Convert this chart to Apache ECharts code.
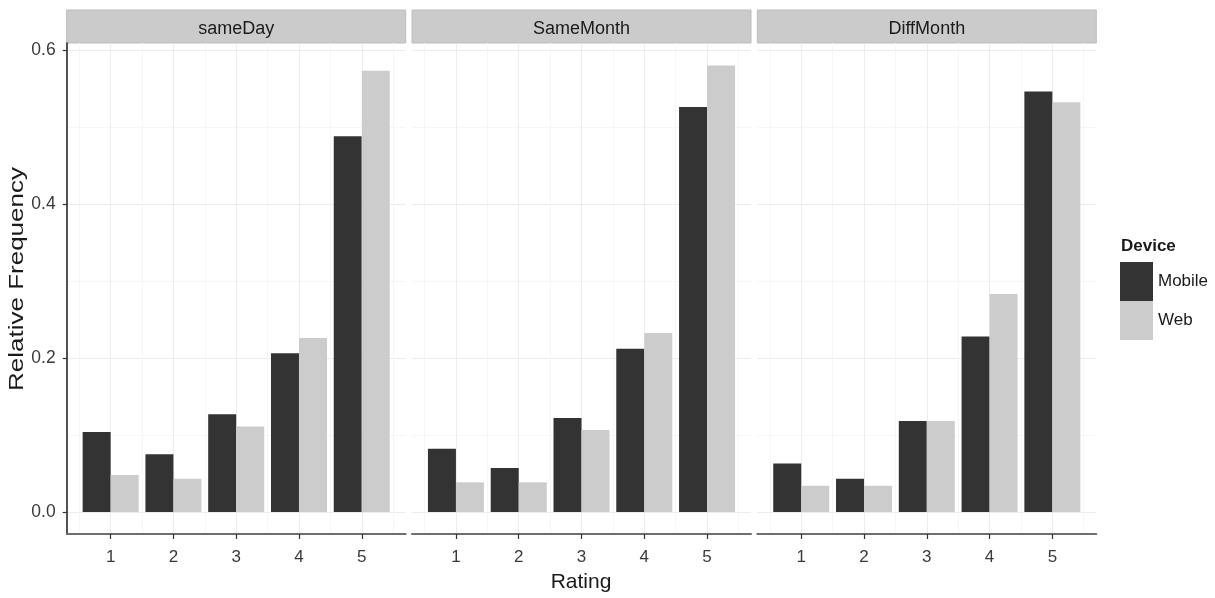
<!DOCTYPE html>
<html>
<head>
<meta charset="utf-8">
<script src="https://cdn.jsdelivr.net/npm/echarts@6/dist/echarts.min.js"></script>
<style>
html,body{margin:0;padding:0;background:#fff;}
#chart{width:1215px;height:598px;}
</style>
</head>
<body>
<div id="chart"></div>
<script>
// ---- data ----
const facets = ['sameDay', 'SameMonth', 'DiffMonth'];
const ratings = [1, 2, 3, 4, 5];
const devices = ['Mobile', 'Web'];
const mobileSameDay   = [0.104, 0.075, 0.127, 0.206, 0.488];
const webSameDay      = [0.048, 0.043, 0.111, 0.226, 0.573];
const mobileSameMonth = [0.082, 0.057, 0.122, 0.212, 0.526];
const webSameMonth    = [0.0385, 0.0385, 0.1065, 0.2325, 0.580];
const mobileDiffMonth = [0.063, 0.043, 0.118, 0.228, 0.546];
const webDiffMonth    = [0.034, 0.034, 0.118, 0.283, 0.532];
const yTicks = [0, 0.2, 0.4, 0.6];
const yMinorTicks = [0.1, 0.3, 0.5];
const xMinorTicks = [0.5, 1.5, 2.5, 3.5, 4.5, 5.5];
const xTitle = 'Rating';
const yTitle = 'Relative Frequency';
const legendTitle = 'Device';

const facetData = [
  [mobileSameDay, webSameDay],
  [mobileSameMonth, webSameMonth],
  [mobileDiffMonth, webDiffMonth]
];

// ---- layout / style ----
const FONT = '"Liberation Sans", Arial, sans-serif';
const panelLeft = [66.7, 412, 757.3];
const panelWidth = 339;
const panelTop = 43;
const panelHeight = 491;
const colors = ['#333333', '#cccccc'];
const majorGrid = '#ececec';
const minorGrid = '#f6f6f6';

const grids = [], xAxes = [], yAxes = [], series = [], graphics = [];

facets.forEach((name, k) => {
  grids.push({left: panelLeft[k], top: panelTop, width: panelWidth, height: panelHeight, containLabel: false});

  // main x axis
  xAxes.push({
    type: 'value', gridIndex: k, min: 0.3, max: 5.7, position: 'bottom',
    axisLine: {show: true, onZero: false, lineStyle: {color: '#6e6e6e', width: 2}},
    axisTick: {show: true, length: 5, customValues: ratings, lineStyle: {color: '#333', width: 1.2}},
    axisLabel: {show: true, customValues: ratings, fontSize: 17, color: '#3a3a3a', fontFamily: FONT, margin: 15},
    splitLine: {show: true, lineStyle: {color: majorGrid, width: 1}}
  });
  // minor x helper
  xAxes.push({
    type: 'value', gridIndex: k, min: 0.3, max: 5.7, position: 'bottom',
    axisLine: {show: false, onZero: false},
    axisTick: {show: false, customValues: xMinorTicks},
    axisLabel: {show: false, customValues: xMinorTicks},
    splitLine: {show: true, lineStyle: {color: minorGrid, width: 1}}
  });

  const first = k === 0;
  yAxes.push({
    type: 'value', gridIndex: k, min: -0.0286, max: 0.6091,
    axisLine: {show: first, onZero: false, lineStyle: {color: '#1a1a1a', width: 1.5}},
    axisTick: {show: first, length: 4, customValues: yTicks, lineStyle: {color: '#333', width: 1.2}},
    axisLabel: {show: first, customValues: yTicks, fontSize: 17.5, color: '#3a3a3a', fontFamily: FONT, margin: 11,
                formatter: v => Number(v).toFixed(1)},
    splitLine: {show: true, lineStyle: {color: majorGrid, width: 1}}
  });
  yAxes.push({
    type: 'value', gridIndex: k, min: -0.0286, max: 0.6091,
    axisLine: {show: false, onZero: false},
    axisTick: {show: false, customValues: yMinorTicks},
    axisLabel: {show: false, customValues: yMinorTicks},
    splitLine: {show: true, lineStyle: {color: minorGrid, width: 1}}
  });

  devices.forEach((dev, d) => {
    series.push({
      type: 'bar', name: dev,
      xAxisIndex: 2 * k, yAxisIndex: 2 * k,
      barWidth: 28, barGap: '0%',
      itemStyle: {color: colors[d]},
      emphasis: {disabled: true},
      data: ratings.map((r, i) => [r, facetData[k][d][i]])
    });
  });

  // strip
  graphics.push({
    type: 'rect', x: panelLeft[k], y: 10,
    shape: {x: 0, y: 0, width: panelWidth, height: 33},
    style: {fill: '#cbcbcb', stroke: '#bdbdbd', lineWidth: 1}
  });
  graphics.push({
    type: 'text', x: panelLeft[k] + panelWidth / 2, y: 29.5,
    style: {text: name, font: '18px ' + FONT, fill: '#1a1a1a',
            align: 'center', verticalAlign: 'middle', textAlign: 'center', textVerticalAlign: 'middle'}
  });
});

// axis titles
graphics.push({
  type: 'text', x: 581, y: 582,
  style: {text: xTitle, font: '21px ' + FONT, fill: '#1a1a1a',
          align: 'center', verticalAlign: 'middle', textAlign: 'center', textVerticalAlign: 'middle'}
});
graphics.push({
  type: 'text', x: 17, y: 279, rotation: Math.PI / 2, scaleX: 1.3, scaleY: 1,
  style: {text: yTitle, font: '20px ' + FONT, fill: '#1a1a1a',
          align: 'center', verticalAlign: 'middle', textAlign: 'center', textVerticalAlign: 'middle'}
});
graphics.push({
  type: 'text', x: 1121, y: 246,
  style: {text: legendTitle, font: 'bold 17px ' + FONT, fill: '#1a1a1a',
          align: 'left', verticalAlign: 'middle', textAlign: 'left', textVerticalAlign: 'middle'}
});

const option = {
  animation: false,
  backgroundColor: '#ffffff',
  grid: grids,
  xAxis: xAxes,
  yAxis: yAxes,
  legend: {
    data: devices, orient: 'vertical', left: 1120, top: 262, padding: 0,
    itemWidth: 33, itemHeight: 39, itemGap: 0, icon: 'rect',
    textStyle: {fontSize: 17, color: '#1a1a1a', fontFamily: FONT},
    selectedMode: false
  },
  graphic: graphics,
  series: series
};

const chart = echarts.init(document.getElementById('chart'), null, {renderer: 'canvas'});
chart.setOption(option);
</script>
</body>
</html>
